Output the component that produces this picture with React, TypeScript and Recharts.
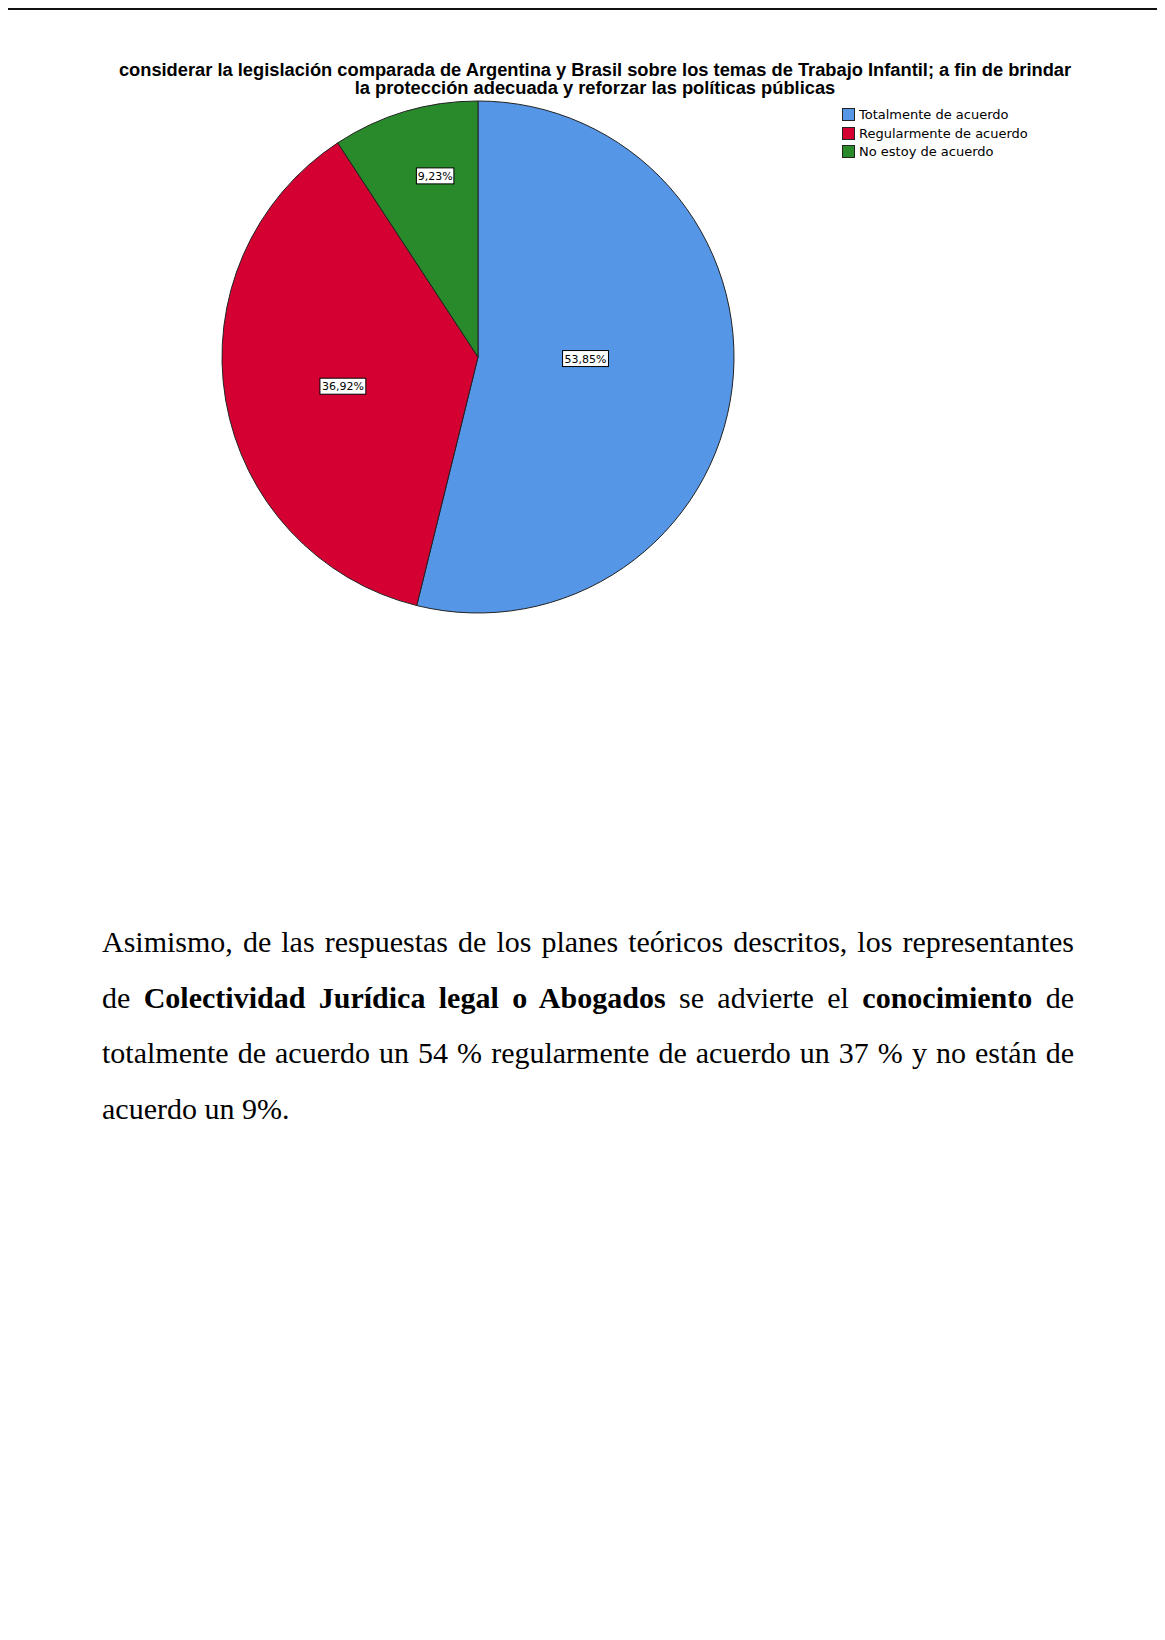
import React from 'react';
import { PieChart, Pie, Cell, Legend } from 'recharts';

const categories = ['Totalmente de acuerdo', 'Regularmente de acuerdo', 'No estoy de acuerdo'];
const counts = [35, 24, 6];
const colors = ['#5596E6', '#D50032', '#298A2B'];
const labelRadiusFactor = [0.42, 0.54, 0.727];
const labelAngleShift = [6.1, 2.5, -3.3];

const titleLines = [
  'considerar la legislación comparada de Argentina y Brasil sobre los temas de Trabajo Infantil; a fin de brindar',
  'la protección adecuada y reforzar las políticas públicas',
];

const data = categories.map((name, i) => ({ name, value: counts[i] }));

const RAD = Math.PI / 180;

const renderLabel = (props: any) => {
  const { cx, cy, midAngle, outerRadius, percent, index } = props;
  const r = outerRadius * labelRadiusFactor[index];
  const a = midAngle + labelAngleShift[index];
  const x = cx + r * Math.cos(-a * RAD);
  const y = cy + r * Math.sin(-a * RAD);
  const text = (percent * 100).toFixed(2).replace('.', ',') + '%';
  const w = text.length * 8.4 - 4.5;
  const h = 16;
  return (
    <g>
      <rect x={x - w / 2} y={y - h / 2} width={w} height={h} fill="#fff" stroke="#000" strokeWidth={1} />
      <text x={x} y={y + 4} textAnchor="middle" fontFamily="'DejaVu Sans', sans-serif" fontSize={11} fill="#000">
        {text}
      </text>
    </g>
  );
};

const renderLegend = (props: any) => {
  const payload = [...(props.payload || [])].sort(
    (a: any, b: any) => categories.indexOf(a.value) - categories.indexOf(b.value)
  );
  return (
    <div style={{ fontFamily: "'DejaVu Sans', sans-serif", fontSize: 13, color: '#000' }}>
      {payload.map((entry: any, i: number) => (
        <div key={i} style={{ display: 'flex', alignItems: 'center', height: 18.8 }}>
          <span
            style={{
              display: 'inline-block',
              width: 11,
              height: 11,
              background: entry.color,
              border: '1px solid #222',
              marginRight: 4,
            }}
          />
          <span>{entry.value}</span>
        </div>
      ))}
    </div>
  );
};

const paraStyle: React.CSSProperties = {
  whiteSpace: 'nowrap',
  textAlign: 'justify',
  textAlignLast: 'justify',
  height: 55.7,
};

export default function App() {
  return (
    <div style={{ position: 'relative', margin: -8, width: 1165, height: 1640, overflow: 'hidden', background: '#fff' }}>
      <div
        style={{
          position: 'absolute',
          left: 6,
          top: 8,
          width: 1300,
          height: 1800,
          borderTop: '2px solid #111',
          borderLeft: '2px solid #111',
        }}
      />
      <div
        style={{
          position: 'absolute',
          left: 0,
          width: 1190,
          top: 61,
          textAlign: 'center',
          fontFamily: "'Liberation Sans', Arial, sans-serif",
          fontWeight: 'bold',
          fontSize: 18.3,
          lineHeight: '18px',
          color: '#000',
          whiteSpace: 'nowrap',
        }}
      >
        {titleLines.map((l, i) => (
          <div key={i}>{l}</div>
        ))}
      </div>
      <div style={{ position: 'absolute', left: 0, top: 0 }}>
        <PieChart width={1165} height={660}>
          <Pie
            data={data}
            dataKey="value"
            nameKey="name"
            cx={473}
            cy={352}
            outerRadius={256}
            startAngle={90}
            endAngle={-270}
            stroke="#222"
            strokeWidth={1}
            label={renderLabel}
            labelLine={false}
            isAnimationActive={false}
          >
            {data.map((d, i) => (
              <Cell key={d.name} fill={colors[i]} />
            ))}
          </Pie>
          <Legend
            content={renderLegend}
            wrapperStyle={{ position: 'absolute', left: 842, top: 105, width: 260 }}
          />
        </PieChart>
      </div>
      <div
        style={{
          position: 'absolute',
          left: 102,
          top: 914,
          width: 972,
          fontFamily: "'Liberation Serif', 'Times New Roman', serif",
          fontSize: 30,
          lineHeight: '55.7px',
          color: '#000',
        }}
      >
        <div style={paraStyle}>
          Asimismo, de las respuestas de los planes teóricos descritos, los representantes
        </div>
        <div style={paraStyle}>
          de <b>Colectividad Jurídica legal o Abogados</b> se advierte el <b>conocimiento</b> de
        </div>
        <div style={paraStyle}>
          totalmente de acuerdo un 54 % regularmente de acuerdo un 37 % y no están de
        </div>
        <div style={{ whiteSpace: 'nowrap', height: 55.7 }}>acuerdo un 9%.</div>
      </div>
    </div>
  );
}
